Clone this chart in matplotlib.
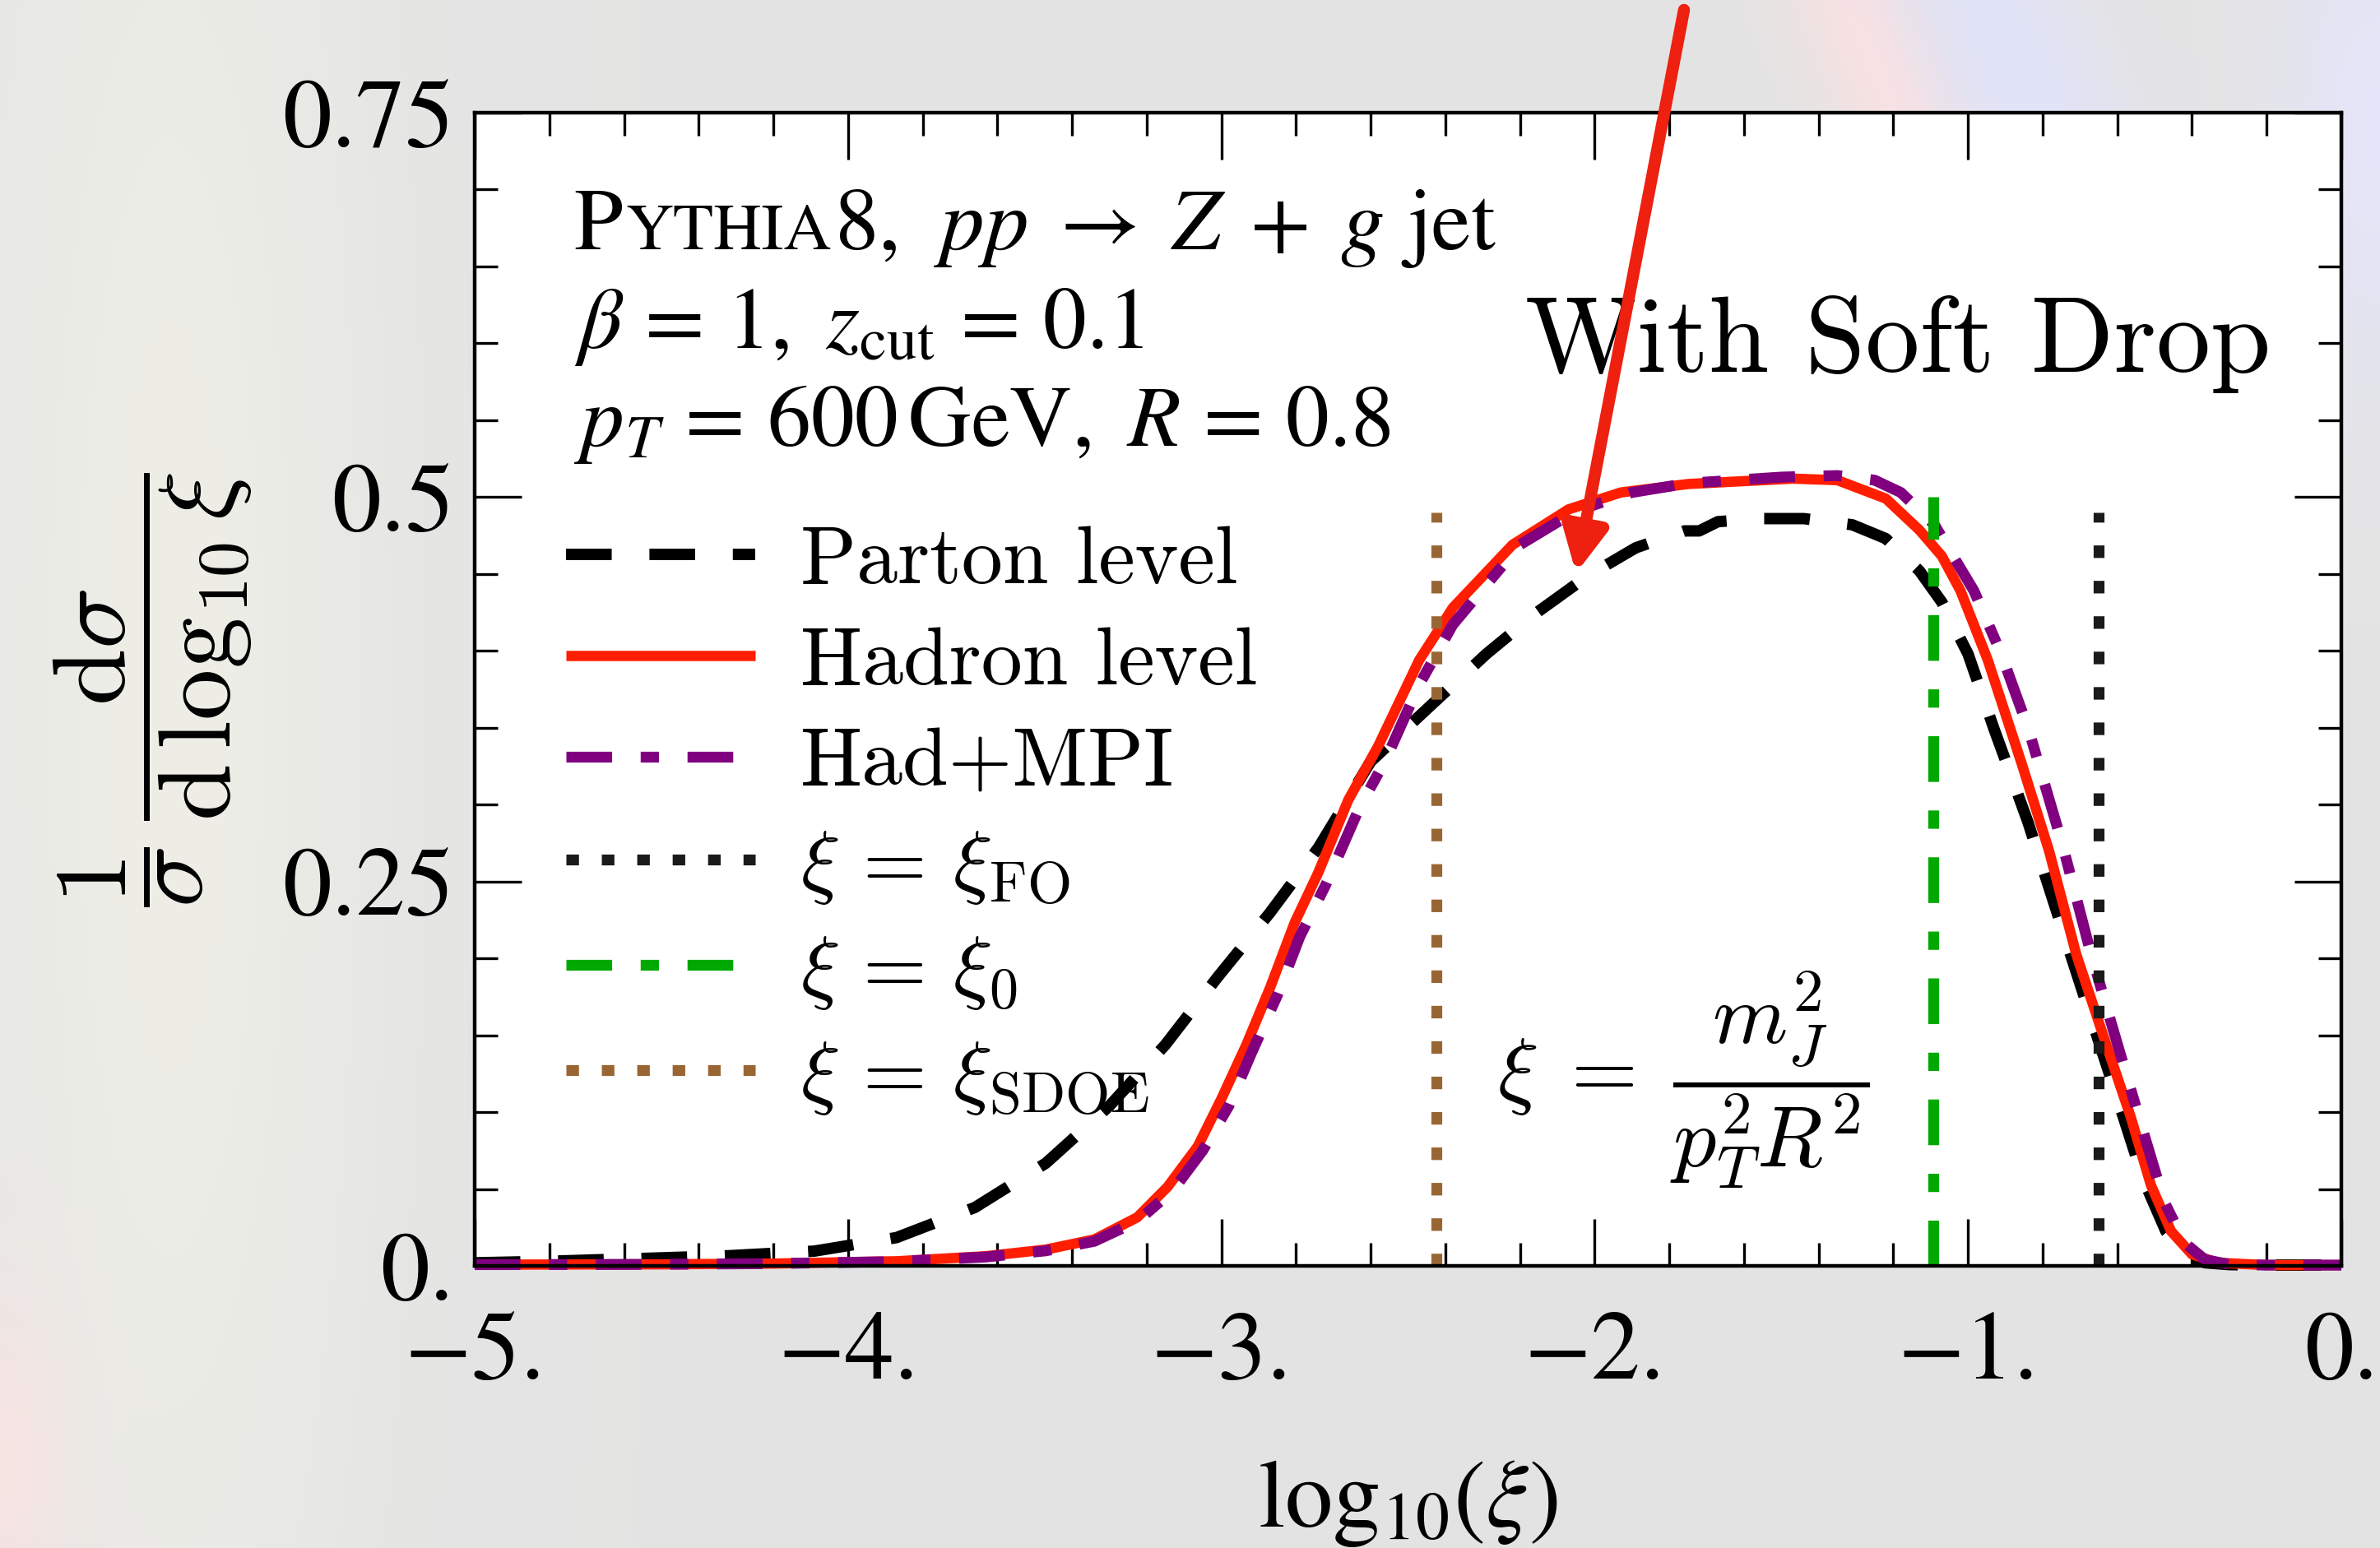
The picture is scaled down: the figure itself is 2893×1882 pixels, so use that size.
import numpy as np
import matplotlib
matplotlib.use("Agg")
import matplotlib.pyplot as plt
import matplotlib.transforms as mtransforms
from matplotlib.ticker import MultipleLocator

# ---- curves: log10(xi) vs normalised distribution ----
parton_x = [-5.0, -4.8, -4.53, -4.32, -4.09, -3.87, -3.66, -3.47, -3.30, -3.15,
            -3.01, -2.87, -2.74, -2.60, -2.45, -2.29, -2.16, -2.02, -1.89, -1.76,
            -1.72, -1.67, -1.56, -1.44, -1.31, -1.22, -1.13, -1.07, -1.00, -0.93,
            -0.84, -0.75, -0.67, -0.60, -0.53, -0.47, -0.42, -0.365, -0.30, -0.2, 0.0]
parton_y = [0.002, 0.003, 0.005, 0.0066, 0.0096, 0.0184, 0.038, 0.0668, 0.104, 0.1438,
            0.1878, 0.2296, 0.272, 0.328, 0.362, 0.398, 0.424, 0.4485, 0.467, 0.478,
            0.478, 0.484, 0.486, 0.486, 0.482, 0.473, 0.452, 0.4316, 0.398, 0.349,
            0.289, 0.221, 0.161, 0.109, 0.056, 0.0225, 0.0075, 0.002, 0.0008, 0.0005, 0.0005]

hadron_x = [-5.0, -4.5, -4.2, -3.87, -3.63, -3.47, -3.34, -3.225, -3.144, -3.063,
            -3.0, -2.933, -2.869, -2.804, -2.74, -2.66, -2.58, -2.47, -2.38, -2.22,
            -2.07, -1.93, -1.75, -1.47, -1.35, -1.22, -1.13, -1.07, -1.02, -0.947,
            -0.856, -0.783, -0.71, -0.638, -0.565, -0.51, -0.456, -0.40, -0.33, -0.2, 0.0]
hadron_y = [0.0008, 0.001, 0.0015, 0.003, 0.0063, 0.0106, 0.0172, 0.0316, 0.0514, 0.0778,
            0.1086, 0.1438, 0.1812, 0.223, 0.256, 0.303, 0.338, 0.394, 0.428, 0.469,
            0.492, 0.503, 0.5085, 0.512, 0.511, 0.499, 0.4785, 0.4616, 0.439, 0.394,
            0.3265, 0.270, 0.2026, 0.150, 0.0975, 0.0525, 0.0225, 0.0075, 0.002, 0.0005, 0.0005]

mpi_x = [-5.0, -4.5, -4.2, -3.87, -3.63, -3.47, -3.34, -3.225, -3.13, -3.05,
         -2.98, -2.92, -2.85, -2.79, -2.72, -2.63, -2.56, -2.47, -2.38, -2.2,
         -2.05, -1.9, -1.75, -1.5, -1.35, -1.25, -1.18, -1.09, -0.984, -0.911,
         -0.838, -0.747, -0.674, -0.602, -0.529, -0.474, -0.42, -0.365, -0.3, -0.2, 0.0]
mpi_y = [0.0008, 0.001, 0.0015, 0.0028, 0.0058, 0.0098, 0.016, 0.029, 0.049, 0.075,
         0.104, 0.138, 0.176, 0.214, 0.248, 0.298, 0.329, 0.378, 0.417, 0.469,
         0.491, 0.503, 0.509, 0.513, 0.514, 0.511, 0.503, 0.482, 0.439, 0.398,
         0.349, 0.274, 0.206, 0.146, 0.086, 0.0415, 0.015, 0.004, 0.001, 0.0005, 0.0005]

# reference values of xi (vertical markers) and how high they are drawn
xi_fo, xi_0, xi_sdoe = -0.650, -1.094, -2.423
xi_fo_top, xi_0_top, xi_sdoe_top = 0.49, 0.50, 0.49

x_ticks = [-5, -4, -3, -2, -1, 0]
x_tick_labels = ["\u22125.", "\u22124.", "\u22123.", "\u22122.", "\u22121.", "0."]
y_ticks = [0, 0.25, 0.5, 0.75]
y_tick_labels = ["0.", "0.25", "0.5", "0.75"]

arrow_tip = (-2.05, 0.4505)

RED = "#ff1e00"
PURPLE = "#800080"
GREEN = "#00a800"
BROWN = "#996633"

plt.rcParams["mathtext.fontset"] = "cm"
plt.rcParams["lines.scale_dashes"] = False

W, H, DPI = 2893, 1882, 100
fig = plt.figure(figsize=(W / DPI, H / DPI), dpi=DPI)

# hazy slide background
bh, bw = 190, 290
yy, xx = np.mgrid[0:bh, 0:bw]
fx, fy = xx / (bw - 1), yy / (bh - 1)
bg = np.ones((bh, bw, 3)) * 0.894
blobs = [
    # cx, cy, sx, sy, angle, colour, strength
    (0.07, 0.45, 0.06, 0.55, 0, (0.95, 0.95, 0.91), 0.7),
    (0.79, 0.04, 0.018, 0.10, 25, (1.0, 0.88, 0.88), 0.8),
    (0.85, 0.05, 0.025, 0.12, 25, (0.88, 0.89, 1.0), 0.8),
    (1.0, 0.08, 0.03, 0.12, 0, (0.90, 0.90, 1.0), 0.8),
    (0.0, 0.95, 0.02, 0.08, 0, (1.0, 0.88, 0.88), 0.6),
]
for cx, cy, sx, sy, ang, col, s in blobs:
    t = np.deg2rad(ang)
    dx, dy = (fx - cx) * 1.54, fy - cy
    u = dx * np.cos(t) - dy * np.sin(t)
    v = dx * np.sin(t) + dy * np.cos(t)
    a = s * np.exp(-0.5 * ((u / (sx * 1.54)) ** 2 + (v / sy) ** 2))
    bg = bg * (1 - a[..., None]) + np.array(col) * a[..., None]
bgax = fig.add_axes([0, 0, 1, 1], zorder=-5)
bgax.imshow(bg, aspect="auto", interpolation="bicubic", extent=[0, 1, 0, 1])
bgax.axis("off")

ax = fig.add_axes([577 / W, 1 - 1539 / H, 2269 / W, 1402 / H])
ax.set_facecolor("white")

ax.plot(parton_x, parton_y, color="black", lw=10, dashes=(40, 33),
        label="Parton level", clip_on=False)
ax.plot(hadron_x, hadron_y, color=RED, lw=9, solid_capstyle="butt",
        label="Hadron level", clip_on=False)
ax.plot(mpi_x, mpi_y, color=PURPLE, lw=9.5, dashes=(40, 25, 16, 25),
        label="Had+MPI", clip_on=False)
ax.plot([xi_fo, xi_fo], [0, xi_fo_top], color="#1a1a1a", lw=9.5, dashes=(11, 20),
        label=r"$\xi\,=\,\xi_{\rm FO}$")
ax.plot([xi_0, xi_0], [0, xi_0_top], color=GREEN, lw=9.5, dashes=(40, 25, 16, 25),
        label=r"$\xi\,=\,\xi_0$")
ax.plot([xi_sdoe, xi_sdoe], [0, xi_sdoe_top], color=BROWN, lw=9.5, dashes=(11, 20),
        label=r"$\xi\,=\,\xi_{\rm SDOE}$")

ax.set_xlim(-5, 0)
ax.set_ylim(0, 0.75)
ax.set_xticks(x_ticks)
ax.set_xticklabels(x_tick_labels)
ax.set_yticks(y_ticks)
ax.set_yticklabels(y_tick_labels)
ax.xaxis.set_minor_locator(MultipleLocator(0.2))
ax.yaxis.set_minor_locator(MultipleLocator(0.05))
ax.tick_params(which="both", direction="in", top=True, right=True, width=2.4)
ax.tick_params(which="major", length=41)
ax.tick_params(which="minor", length=20)
ax.tick_params(axis="x", which="major", pad=40)
ax.tick_params(axis="y", which="major", pad=18)
for lab in ax.get_xticklabels() + ax.get_yticklabels():
    lab.set_fontfamily("STIXGeneral")
    lab.set_fontsize(86)
for sp in ax.spines.values():
    sp.set_linewidth(3.2)

ax.set_xlabel(r"$\mathrm{log}_{10}(\xi)$", fontsize=84, math_fontfamily="stix")
ax.xaxis.set_label_coords(0.5, -0.163)
ax.xaxis.label.set_va("top")
ax.set_ylabel(r"$\dfrac{1}{\sigma}\,\dfrac{\mathrm{d}\sigma}{\mathrm{d}\,\log_{10}\xi}$",
              fontsize=90)
ax.yaxis.set_label_coords(-0.118, 0.5)

leg = ax.legend(loc="upper left", bbox_to_anchor=(0.049, 0.642), frameon=False,
                prop={"family": "cmr10", "size": 72}, handlelength=2.3,
                handletextpad=0.55, labelspacing=0.34, borderpad=0, borderaxespad=0)

# process / cuts block, with small caps for the generator name
renderer = fig.canvas.get_renderer()
tx, ty = 0.0532, 0.8816
dx = 0.0
for piece, size in [("P", 77), ("YTHIA", 58),
                    (r"8, $\;pp\;\rightarrow\;Z\;+\;g$ jet", 77)]:
    tr = mtransforms.offset_copy(ax.transAxes, fig=fig, x=dx, y=0, units="dots")
    t = ax.text(tx, ty, piece, transform=tr, fontsize=size, family="STIXGeneral",
                math_fontfamily="stix", va="baseline", ha="left")
    dx += t.get_window_extent(renderer).width + 3
ax.text(tx, 0.7962, r"$\beta\,=\,1,\ z_{\rm cut}\,=\,0.1$", transform=ax.transAxes,
        fontsize=76, math_fontfamily="stix", va="baseline", ha="left")
ax.text(tx, 0.7113, r"$p_T\,=\,600\,{\rm GeV},\ R\,=\,0.8$", transform=ax.transAxes,
        fontsize=76, math_fontfamily="stix", va="baseline", ha="left")

ax.text(0.5628, 0.7753, "With Soft Drop", transform=ax.transAxes, family="cmr10",
        fontsize=95, va="baseline", ha="left")
ax.text(0.548, 0.1612, r"$\xi\;=\;\dfrac{m_J^2}{p_T^2 R^2}$", transform=ax.transAxes,
        fontsize=75, va="center", ha="left")

ax.annotate("", xy=arrow_tip, xycoords="data",
            xytext=(2047 / W, 1 - 12 / H), textcoords="figure fraction",
            arrowprops=dict(arrowstyle="-|>,head_length=0.8,head_width=0.4",
                            mutation_scale=40, lw=10.5, color="#ee2010",
                            shrinkA=0, shrinkB=0),
            annotation_clip=False, zorder=10)

fig.text(2712 / W, 1 + 22 / H, r"$g$", color="#ee2010", fontsize=70,
         math_fontfamily="stix", ha="center", va="baseline")

fig.savefig("out.png", dpi=DPI)
